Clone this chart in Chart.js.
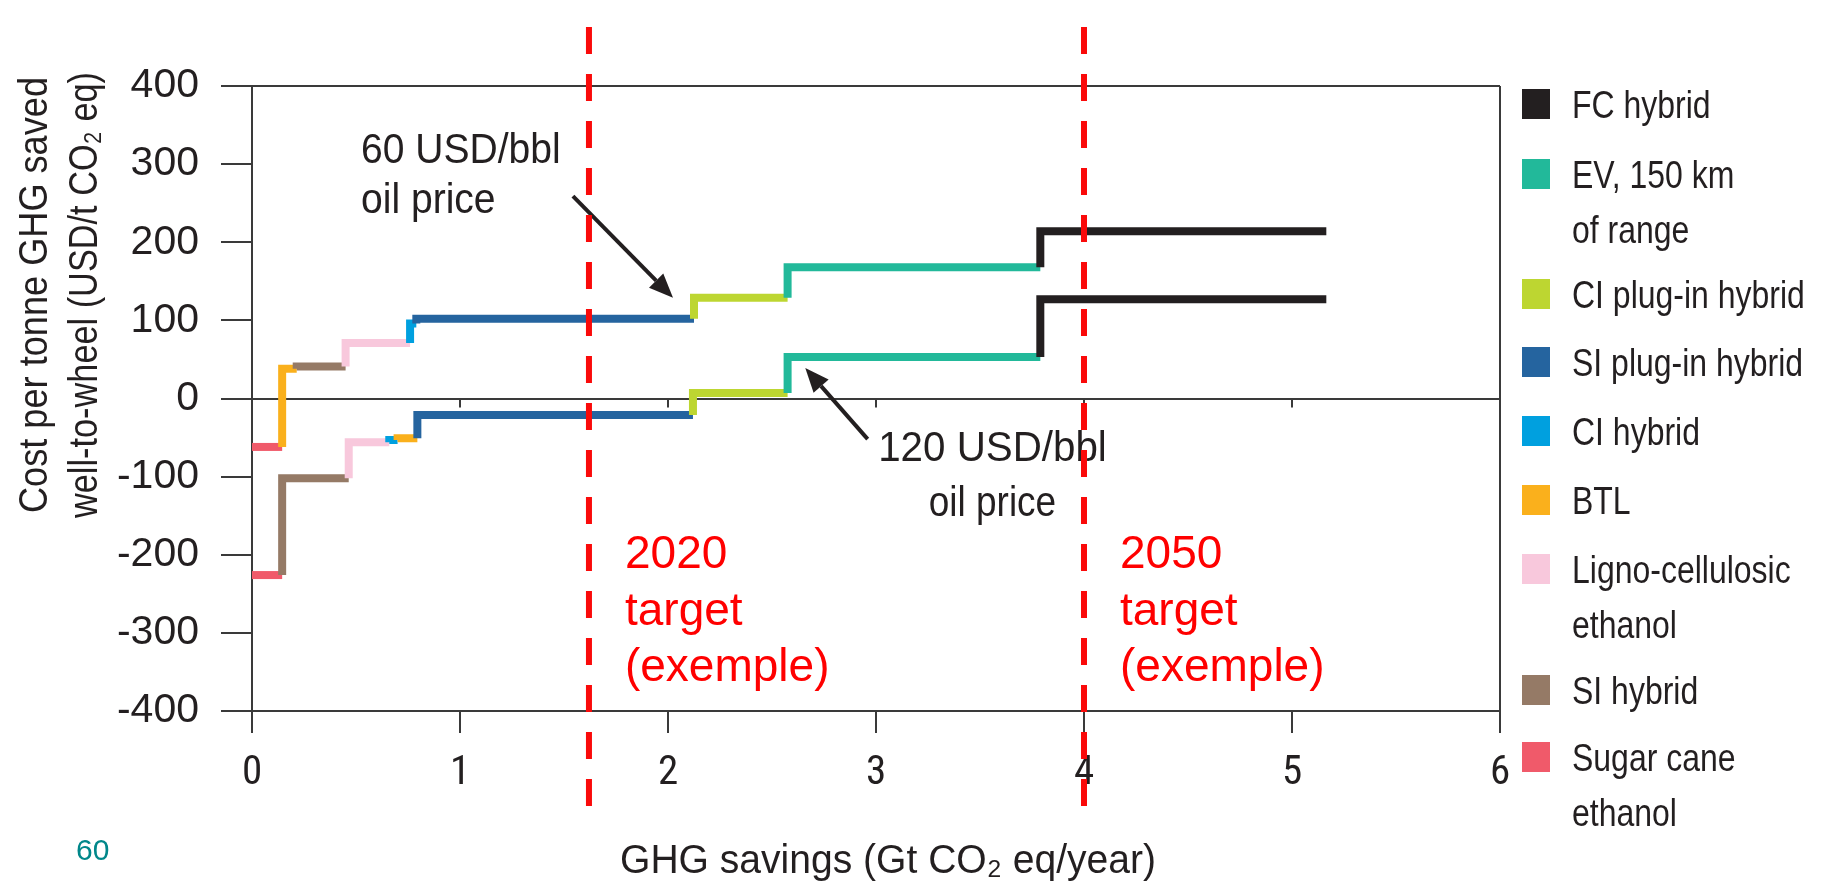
<!DOCTYPE html>
<html><head><meta charset="utf-8">
<script src="https://cdn.jsdelivr.net/npm/chart.js@4.4.1/dist/chart.umd.min.js"></script>
<style>html,body{margin:0;padding:0;background:#fff;overflow:hidden}#wrap{position:relative;width:1825px;height:881px}canvas{display:block}</style>
</head><body><div id="wrap"><canvas id="c" width="1825" height="881"></canvas></div>
<script>
// ---------- data ----------
const techNames  = ['FC hybrid','EV, 150 km of range','CI plug-in hybrid','SI plug-in hybrid','CI hybrid','BTL','Ligno-cellulosic ethanol','SI hybrid','Sugar cane ethanol'];
const techLegend = [['FC hybrid'],['EV, 150 km','of range'],['CI plug-in hybrid'],['SI plug-in hybrid'],['CI hybrid'],['BTL'],['Ligno-cellulosic','ethanol'],['SI hybrid'],['Sugar cane','ethanol']];
const techColors = ['#231f20','#22b99a','#bdd631','#25649f','#00a0df','#fab01c','#f8c8dc','#957a66','#f05a6a'];

// 60 USD/bbl oil price curve (cumulative GHG savings at segment end, cost)
const oil60Tech = ['Sugar cane ethanol','BTL','SI hybrid','Ligno-cellulosic ethanol','CI hybrid','SI plug-in hybrid','CI plug-in hybrid','EV, 150 km of range','FC hybrid'];
const oil60End  = [0.145, 0.215, 0.45, 0.76, 0.79, 2.125, 2.575, 3.79, 5.165];
const oil60Cost = [-62, 38, 41, 71, 96, 102, 129, 168, 214];

// 120 USD/bbl oil price curve
const oil120Tech = ['Sugar cane ethanol','SI hybrid','Ligno-cellulosic ethanol','CI hybrid','BTL','SI plug-in hybrid','CI plug-in hybrid','EV, 150 km of range','FC hybrid'];
const oil120End  = [0.145, 0.465, 0.66, 0.70, 0.795, 2.12, 2.575, 3.79, 5.165];
const oil120Cost = [-226, -102, -56, -53, -51, -21, 7, 53, 127];

const xTickValues = [0,1,2,3,4,5,6];
const yTickValues = [-400,-300,-200,-100,0,100,200,300,400];
const targetX      = [1.62, 4.0];
const targetLabels = [['2020','target','(exemple)'],['2050','target','(exemple)']];
const oilLabels    = [['60 USD/bbl','oil price'],['120 USD/bbl','oil price']];

// ---------- build datasets ----------
function curveDatasets(techs, ends, costs, tag){
  return techs.map((t,i)=>{
    const c = techColors[techNames.indexOf(t)];
    const pts = i===0
      ? [{x:0,y:costs[0]},{x:ends[0],y:costs[0]}]
      : [{x:ends[i-1],y:costs[i-1]},{x:ends[i-1],y:costs[i]},{x:ends[i],y:costs[i]}];
    return {label:tag+' '+t, data:pts, borderColor:c, backgroundColor:c, borderWidth:8,
            borderCapStyle:'butt', borderJoinStyle:'miter', pointRadius:0, tension:0, fill:false, order:100-i};
  });
}
const datasets = [...curveDatasets(oil60Tech,oil60End,oil60Cost,'60'), ...curveDatasets(oil120Tech,oil120End,oil120Cost,'120')];

const AX = '#3a3a3a', INK = '#231f20', RED = '#fa0a0a';
const FF = "'Liberation Sans', Arial, sans-serif";
function txt(ctx,str,x,y,size,color,opt){
  opt=opt||{};
  ctx.save(); ctx.font=size+'px '+FF; ctx.fillStyle=color;
  ctx.textAlign=opt.align||'left'; ctx.textBaseline='alphabetic';
  const w=ctx.measureText(str).width;
  ctx.fillText(str,x,y,opt.width||w*(opt.squeeze||1));
  ctx.restore();
}
function arrow(ctx,x1,y1,x2,y2){
  const a=Math.atan2(y2-y1,x2-x1), head=24, hw=10;
  const bx=x2-head*Math.cos(a), by=y2-head*Math.sin(a);
  ctx.save(); ctx.strokeStyle=INK; ctx.fillStyle=INK; ctx.lineWidth=4;
  ctx.beginPath(); ctx.moveTo(x1,y1); ctx.lineTo(bx,by); ctx.stroke();
  ctx.beginPath(); ctx.moveTo(x2,y2);
  ctx.lineTo(bx-hw*Math.sin(a), by+hw*Math.cos(a));
  ctx.lineTo(bx+hw*Math.sin(a), by-hw*Math.cos(a));
  ctx.closePath(); ctx.fill(); ctx.restore();
}

const overlay = {
  id:'overlay',
  beforeDatasetsDraw(chart){
    const ctx=chart.ctx, xs=chart.scales.x, ys=chart.scales.y, y0=ys.getPixelForValue(0);
    ctx.save(); ctx.strokeStyle=AX; ctx.lineWidth=2;
    xTickValues.slice(1,-1).forEach(v=>{const px=xs.getPixelForValue(v); ctx.beginPath(); ctx.moveTo(px,y0); ctx.lineTo(px,y0+9); ctx.stroke();});
    ctx.restore();
  },
  afterDatasetsDraw(chart){
    const ctx=chart.ctx, xs=chart.scales.x, ys=chart.scales.y;
    const X=v=>xs.getPixelForValue(v), Y=v=>ys.getPixelForValue(v);
    // arrows
    arrow(ctx, X(1.543), Y(259), X(2.024), Y(129));
    arrow(ctx, X(2.96), Y(-52), X(2.66), Y(39));
    // oil price labels
    txt(ctx, oilLabels[0][0], X(0.524), Y(301), 42, INK, {squeeze:0.93});
    txt(ctx, oilLabels[0][1], X(0.524), Y(238), 42, INK, {squeeze:0.93});
    txt(ctx, oilLabels[1][0], X(3.56), Y(-80), 42, INK, {align:'center', squeeze:0.96});
    txt(ctx, oilLabels[1][1], X(3.56), Y(-151), 42, INK, {align:'center', squeeze:0.88});
    // target dashed lines
    ctx.save(); ctx.strokeStyle=RED; ctx.lineWidth=6; ctx.setLineDash([27,20]);
    targetX.forEach(v=>{ctx.beginPath(); ctx.moveTo(X(v),27); ctx.lineTo(X(v),806); ctx.stroke();});
    ctx.restore();
    targetX.forEach((v,i)=>{
      targetLabels[i].forEach((s,k)=>txt(ctx, s, X(v)+36, Y(-217-72.5*k), 46, '#ff0000'));
    });
  },
  afterDraw(chart){
    const ctx=chart.ctx;
    // legend
    const rowY=[104,174,294,362,431,500,569,690,757];
    techLegend.forEach((lines,i)=>{
      ctx.fillStyle=techColors[i]; ctx.fillRect(1522,rowY[i]-15,28,30);
      lines.forEach((s,k)=>txt(ctx,s,1572,rowY[i]+14+k*55,39,INK,{squeeze:0.82}));
    });
    // y title
    ctx.save(); ctx.translate(47,295); ctx.rotate(-Math.PI/2);
    txt(ctx,'Cost per tonne GHG saved',0,0,40,INK,{align:'center',width:436}); ctx.restore();
    ctx.save(); ctx.translate(97,295); ctx.rotate(-Math.PI/2);
    txt(ctx,'well-to-wheel (USD/t CO\u2082 eq)',0,0,40,INK,{align:'center',width:446}); ctx.restore();
    // x title
    txt(ctx,'GHG savings (Gt CO\u2082 eq/year)',888,873,40,INK,{align:'center',width:536});
    // page number
    txt(ctx,'60',76,860,30,'#00878a');
  }
};

new Chart(document.getElementById('c'),{
  type:'line',
  data:{datasets},
  options:{
    responsive:false, animation:false, events:[],
    layout:{padding:{top:86,right:325,left:0,bottom:0}},
    plugins:{legend:{display:false},tooltip:{enabled:false}},
    scales:{
      x:{type:'linear',min:0,max:6,
         afterFit(s){s.height=170;},
         afterBuildTicks(s){s.ticks=xTickValues.map(v=>({value:v}));},
         ticks:{font:{family:"'Liberation Sans Narrow', 'Roboto Condensed', 'DejaVu Sans Condensed', "+FF,size:41},color:INK,padding:16,maxRotation:0},
         grid:{color:c=>c.tick&&c.tick.value===6?AX:'rgba(0,0,0,0)',tickColor:AX,tickLength:22,lineWidth:2},
         border:{display:true,color:AX,width:2}},
      y:{type:'linear',min:-400,max:400,
         afterFit(s){s.width=252;},
         afterBuildTicks(s){s.ticks=yTickValues.map(v=>({value:v}));},
         ticks:{font:{family:FF,size:41},color:INK,padding:22},
         grid:{color:c=>c.tick&&(c.tick.value===400||c.tick.value===0||c.tick.value===-400)?AX:'rgba(0,0,0,0)',tickColor:AX,tickLength:31,lineWidth:2},
         border:{display:true,color:AX,width:2}}
    }
  },
  plugins:[overlay]
});
</script></body></html>
